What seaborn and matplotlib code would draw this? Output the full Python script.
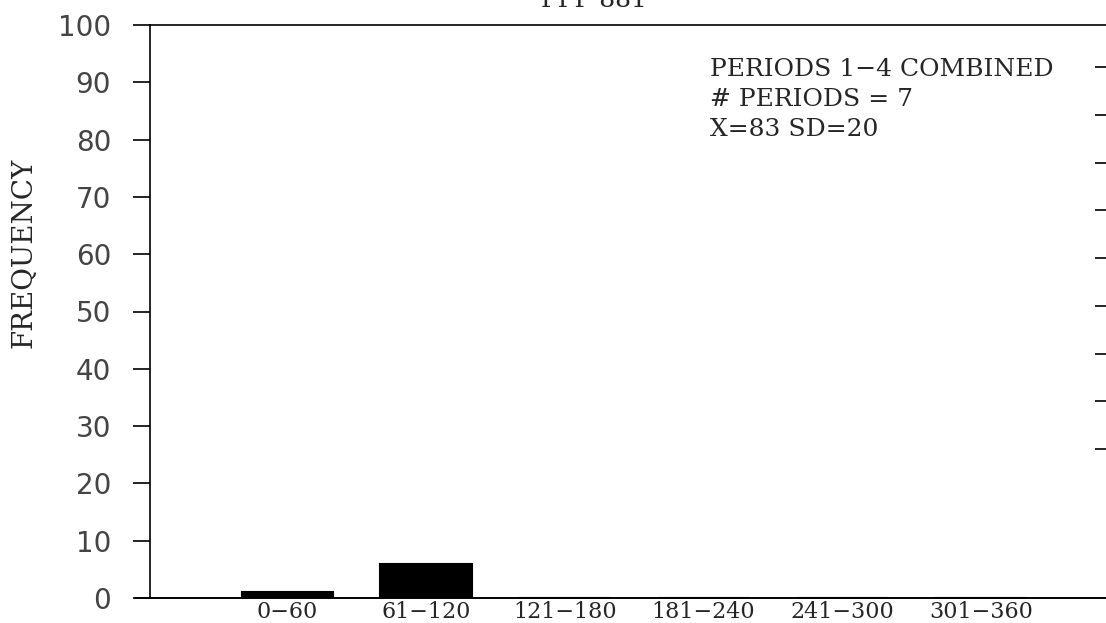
import matplotlib
matplotlib.use("Agg")
import matplotlib.pyplot as plt
import seaborn as sns
import pandas as pd

# data
bins = ['0\u221260', '61\u2212120', '121\u2212180', '181\u2212240', '241\u2212300', '301\u2212360']
freq = [1, 6, 0, 0, 0, 0]
y_ticks = [0, 10, 20, 30, 40, 50, 60, 70, 80, 90, 100]
notes = ['PERIODS 1\u22124 COMBINED', '# PERIODS = 7', 'X=83 SD=20']
title = 'PPP 881'

sns.set_style('white')
serif = ['DejaVu Serif']

fig = plt.figure(figsize=(11.06, 6.23), dpi=100)
ax = fig.add_axes([150 / 1106, 25 / 623, (1106 - 150) / 1106, (598 - 25) / 623])

df = pd.DataFrame({'bin': bins, 'freq': freq})
sns.barplot(data=df, x='bin', y='freq', color='black', width=0.66,
            saturation=1, edgecolor='black', linewidth=1.5, ax=ax)

ax.set_xlim(-0.99, 5.9)
ax.set_ylim(0, 100)
ax.set_yticks(y_ticks)
ax.set_yticklabels([str(v) for v in y_ticks], family='DejaVu Sans',
                   fontsize=20, color='#444444')
ax.tick_params(axis='y', direction='out', length=12, width=1.2, pad=16,
               left=True, color='black')
ax.tick_params(axis='x', length=0, pad=2)
for lab in ax.get_xticklabels():
    lab.set_family(serif)
    lab.set_fontsize(16)
ax.set_xlabel('')
ax.set_ylabel('FREQUENCY', family=serif, fontsize=20)
# label sits above the axis middle in the reference
ax.yaxis.set_label_coords((38 - 150) / 956, (598 - 253) / 573)

for side in ['left', 'top', 'bottom']:
    ax.spines[side].set_visible(True)
    ax.spines[side].set_color('black')
    ax.spines[side].set_linewidth(1.2)
ax.spines['right'].set_visible(False)
# base line runs a bit left of the y axis
ax.axhline(0, xmin=-0.016, xmax=1, color='black', lw=1.2, clip_on=False)

# unlabelled ticks on the right edge (separate scale)
ax2 = ax.twinx()
ax2.set_ylim(-0.12, 11.88)
ax2.set_yticks(range(3, 12))
ax2.set_yticklabels([])
ax2.tick_params(axis='y', direction='in', length=8, width=1.2, right=True,
                color='black')
for s in ax2.spines.values():
    s.set_visible(False)

for i, line in enumerate(notes):
    fig.text(710 / 1106, 1 - (70 + 30 * i) / 623, line, family=serif,
             fontsize=18, va='center', ha='left')

fig.text(594 / 1106, 1 - 7 / 623, title, family=serif, fontsize=18,
         ha='center', va='baseline')

fig.savefig('out.png', dpi=100)
